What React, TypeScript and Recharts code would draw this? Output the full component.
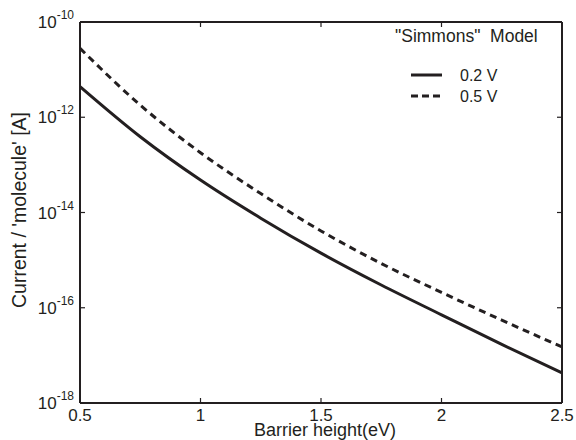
import React from 'react';
import { LineChart, Line, XAxis, YAxis } from 'recharts';

const barrier = [0.5, 0.75, 1.0, 1.25, 1.5, 1.75, 2.0, 2.25, 2.5];
const current02 = [4.4e-12, 3.9e-13, 4.8e-14, 7.6e-15, 1.4e-15, 3.0e-16, 7.1e-17, 1.7e-17, 4.3e-18];
const current05 = [2.8e-11, 1.8e-12, 1.8e-13, 2.5e-14, 4.1e-15, 8.5e-16, 2.1e-16, 5.5e-17, 1.5e-17];

const xTicks = [0.5, 1, 1.5, 2, 2.5];
const yTicks = [1e-18, 1e-16, 1e-14, 1e-12, 1e-10];

const data = barrier.map((b, i) => ({ b, v02: current02[i], v05: current05[i] }));

const FONT = '"Liberation Sans", Arial, Helvetica, sans-serif';
const INK = '#231f20';

const BottomTick = (props: any) => {
  const { x, y, payload } = props;
  return (
    <g>
      <line x1={x} x2={x} y1={y} y2={y - 5} stroke={INK} strokeWidth={1.2} />
      <text x={x} y={y + 18} textAnchor="middle" fontSize={17} fill={INK} fontFamily={FONT}>
        {String(payload.value)}
      </text>
    </g>
  );
};

const TopTick = (props: any) => {
  const { x, y } = props;
  return <line x1={x} x2={x} y1={y} y2={y + 5} stroke={INK} strokeWidth={1.2} />;
};

const LeftTick = (props: any) => {
  const { x, y, payload } = props;
  const exp = Math.round(Math.log10(payload.value));
  return (
    <g>
      <line x1={x} x2={x + 5} y1={y} y2={y} stroke={INK} strokeWidth={1.2} />
      <text x={x - 6} y={y + 6} textAnchor="end" fill={INK} fontFamily={FONT}>
        <tspan fontSize={17}>10</tspan>
        <tspan fontSize={12} dy={-9}>{exp}</tspan>
      </text>
    </g>
  );
};

const RightTick = (props: any) => {
  const { x, y } = props;
  return <line x1={x} x2={x - 5} y1={y} y2={y} stroke={INK} strokeWidth={1.2} />;
};

const LegendBox = () => (
  <svg width={576} height={130} style={{ position: 'absolute', left: 0, top: 0, pointerEvents: 'none' }}>
    <text x={395} y={42} fontSize={17.5} fill={INK} fontFamily={FONT} xmlSpace="preserve">
      "Simmons"  Model
    </text>
    <line x1={411} x2={442} y1={75} y2={75} stroke={INK} strokeWidth={3} />
    <text x={460} y={81} fontSize={16} fill={INK} fontFamily={FONT}>0.2 V</text>
    <line x1={411} x2={442} y1={96} y2={96} stroke={INK} strokeWidth={3} strokeDasharray="7 4" />
    <text x={460} y={102} fontSize={16} fill={INK} fontFamily={FONT}>0.5 V</text>
  </svg>
);

export default function App() {
  return (
    <div style={{ position: 'absolute', left: 0, top: 0, width: 576, height: 440, background: '#fff', fontFamily: FONT }}>
      <LineChart width={576} height={440} data={data} margin={{ top: 21, right: 13, bottom: 0, left: 0 }}>
        <XAxis
          dataKey="b"
          type="number"
          domain={[0.5, 2.5]}
          ticks={xTicks}
          height={37}
          tickSize={0}
          tickMargin={0}
          tickLine={false}
          tick={<BottomTick />}
          axisLine={{ stroke: INK, strokeWidth: 2 }}
          interval={0}
        />
        <XAxis
          xAxisId="top"
          orientation="top"
          dataKey="b"
          type="number"
          domain={[0.5, 2.5]}
          ticks={xTicks}
          height={1}
          tickSize={0}
          tickMargin={0}
          tickLine={false}
          tick={<TopTick />}
          axisLine={{ stroke: INK, strokeWidth: 2 }}
          interval={0}
        />
        <YAxis
          type="number"
          scale="log"
          domain={[1e-18, 1e-10]}
          allowDataOverflow
          ticks={yTicks}
          width={80}
          tickSize={0}
          tickMargin={0}
          tickLine={false}
          tick={<LeftTick />}
          axisLine={{ stroke: INK, strokeWidth: 2 }}
          interval={0}
        />
        <YAxis
          yAxisId="right"
          orientation="right"
          type="number"
          scale="log"
          domain={[1e-18, 1e-10]}
          allowDataOverflow
          ticks={yTicks}
          width={1}
          tickSize={0}
          tickMargin={0}
          tickLine={false}
          tick={<RightTick />}
          axisLine={{ stroke: INK, strokeWidth: 2 }}
          interval={0}
        />
        <Line
          dataKey="v02"
          type="monotone"
          stroke={INK}
          strokeWidth={3}
          dot={false}
          isAnimationActive={false}
        />
        <Line
          dataKey="v05"
          type="monotone"
          stroke={INK}
          strokeWidth={3}
          strokeDasharray="7 5"
          dot={false}
          isAnimationActive={false}
        />
        <Line
          xAxisId="top"
          yAxisId="right"
          dataKey="v02"
          stroke="none"
          strokeWidth={0}
          dot={false}
          activeDot={false}
          legendType="none"
          isAnimationActive={false}
        />
      </LineChart>
      <LegendBox />
      <div
        style={{
          position: 'absolute',
          left: 19,
          top: 210,
          transform: 'translate(-50%, -50%) rotate(-90deg)',
          whiteSpace: 'nowrap',
          fontSize: 19.5,
          color: INK,
        }}
      >
        Current / 'molecule' [A]
      </div>
      <div
        style={{
          position: 'absolute',
          left: 325,
          top: 421,
          transform: 'translateX(-50%)',
          whiteSpace: 'nowrap',
          fontSize: 18,
          lineHeight: '18px',
          color: INK,
        }}
      >
        Barrier height(eV)
      </div>
    </div>
  );
}
